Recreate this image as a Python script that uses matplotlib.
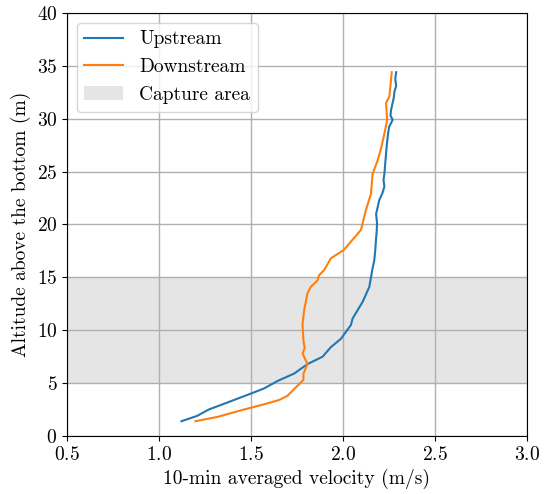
import matplotlib
matplotlib.use("Agg")
import matplotlib.pyplot as plt

plt.rcParams['font.family'] = 'serif'
plt.rcParams['font.serif'] = ['cmr10']
plt.rcParams['mathtext.fontset'] = 'cm'
plt.rcParams['axes.formatter.use_mathtext'] = True

up_v = [1.122, 1.207, 1.270, 1.407, 1.498, 1.571, 1.644, 1.734, 1.807, 1.889, 1.934, 1.989,
        2.043, 2.052, 2.107, 2.143, 2.152, 2.160, 2.170, 2.175, 2.179, 2.183, 2.185, 2.180,
        2.197, 2.215, 2.225, 2.220, 2.225, 2.234, 2.238, 2.243, 2.250, 2.270, 2.258, 2.261,
        2.276, 2.280, 2.289, 2.284, 2.289]
up_h = [1.4, 1.9, 2.5, 3.4, 4.0, 4.5, 5.2, 5.9, 6.8, 7.5, 8.4, 9.2,
        10.5, 11.1, 12.7, 14.1, 15.0, 15.8, 16.6, 17.5, 18.5, 19.3, 20.1, 21.0,
        22.3, 23.0, 23.6, 24.2, 24.8, 26.7, 27.5, 28.3, 29.2, 29.9, 30.3, 30.8,
        32.0, 32.6, 33.1, 33.8, 34.4]

down_v = [1.198, 1.316, 1.461, 1.571, 1.652, 1.698, 1.744, 1.785, 1.785, 1.807, 1.780, 1.792,
          1.785, 1.780, 1.789, 1.807, 1.825, 1.861, 1.870, 1.898, 1.934, 2.005, 2.098, 2.125,
          2.152, 2.161, 2.189, 2.207, 2.225, 2.240, 2.234, 2.252, 2.265]
down_h = [1.4, 1.8, 2.5, 3.0, 3.4, 3.8, 4.6, 5.3, 5.9, 6.8, 7.8, 8.3,
          9.0, 10.6, 11.9, 13.5, 14.1, 14.7, 15.2, 15.7, 16.8, 17.6, 19.5, 21.4,
          22.9, 24.8, 26.1, 27.2, 28.6, 29.9, 31.5, 32.1, 34.4]

capture = (5, 15)

fig = plt.figure(figsize=(5.46, 4.94), dpi=100)
ax = fig.add_axes([0.1227, 0.1174, 0.8425, 0.8563])
ax.plot(up_v, up_h, color='#1f77b4', lw=1.5, label='Upstream')
ax.plot(down_v, down_h, color='#ff7f0e', lw=1.5, label='Downstream')
ax.axhspan(capture[0], capture[1], color='gray', alpha=0.2, lw=0, label='Capture area')
ax.set_xlim(0.5, 3.0)
ax.set_ylim(0, 40)
ax.grid(True, color='#b0b0b0', lw=1.0)
ax.set_xlabel('10-min averaged velocity (m/s)', fontsize=14)
ax.set_ylabel('Altitude above the bottom (m)', fontsize=14)
ax.tick_params(labelsize=14)
ax.legend(loc='upper left', fontsize=14)
fig.savefig('out.png', dpi=100)
